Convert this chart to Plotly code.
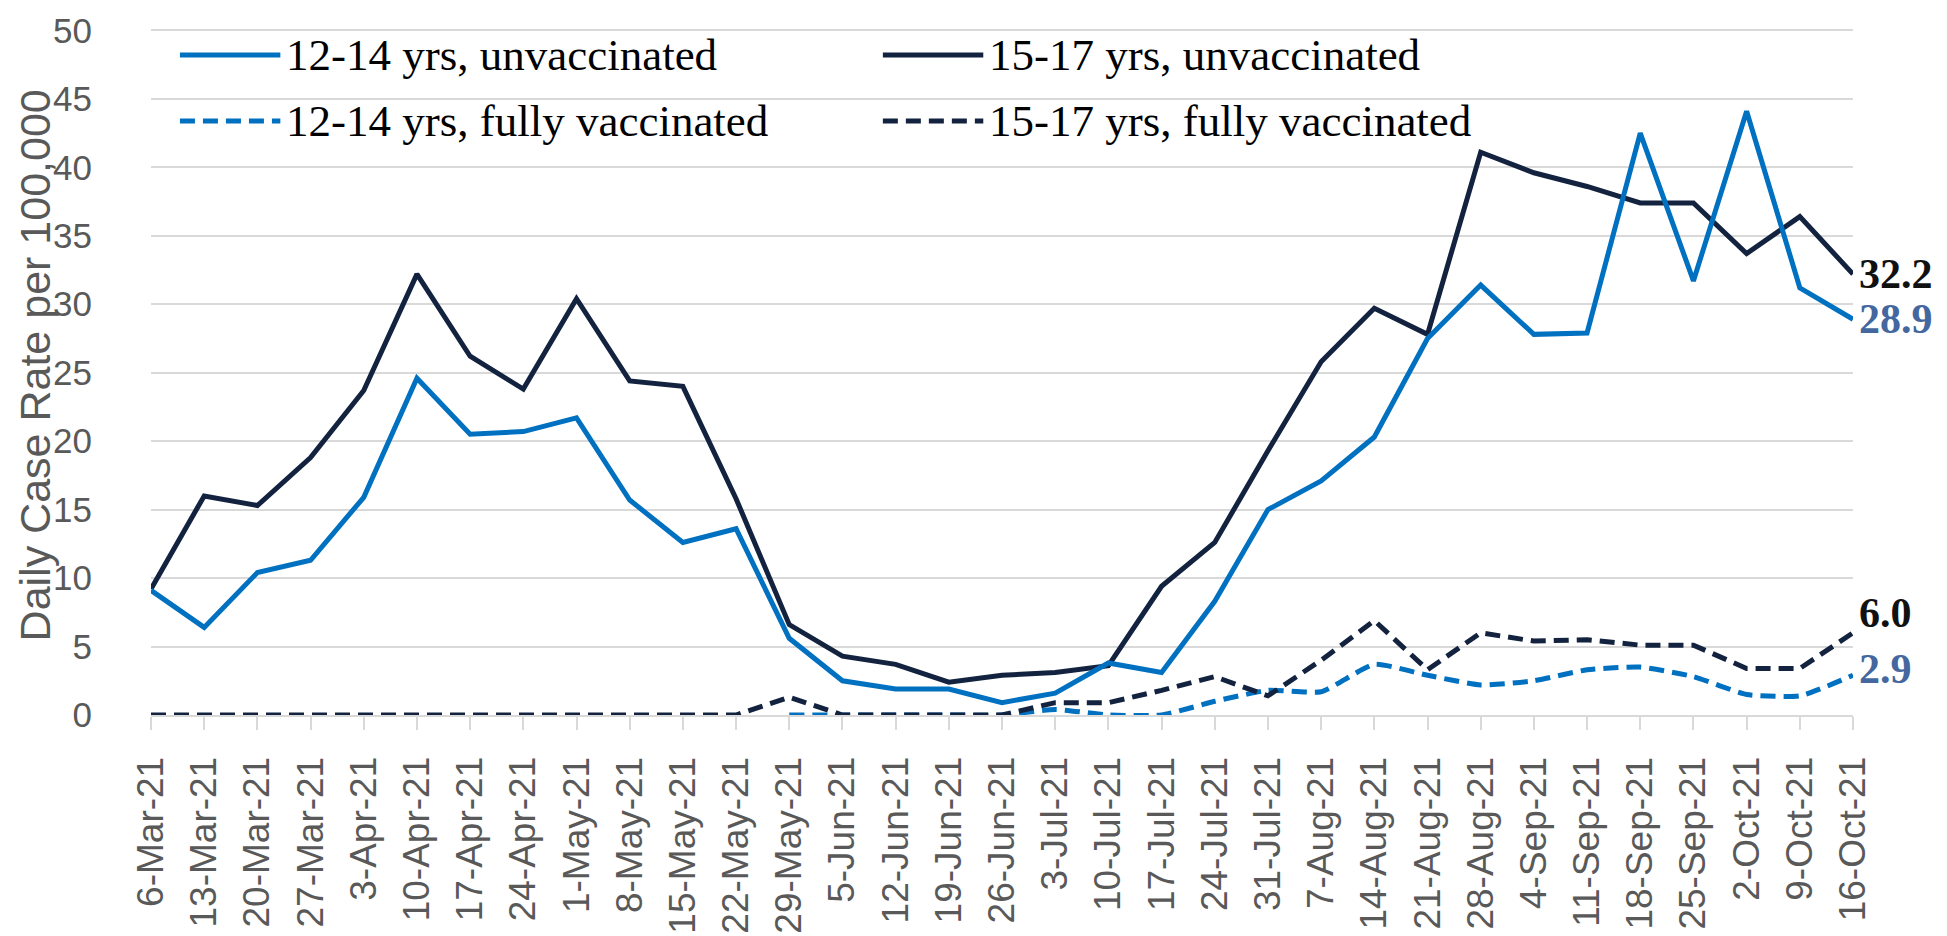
import plotly.graph_objects as go

weeks = ["6-Mar-21", "13-Mar-21", "20-Mar-21", "27-Mar-21", "3-Apr-21", "10-Apr-21",
         "17-Apr-21", "24-Apr-21", "1-May-21", "8-May-21", "15-May-21", "22-May-21",
         "29-May-21", "5-Jun-21", "12-Jun-21", "19-Jun-21", "26-Jun-21", "3-Jul-21",
         "10-Jul-21", "17-Jul-21", "24-Jul-21", "31-Jul-21", "7-Aug-21", "14-Aug-21",
         "21-Aug-21", "28-Aug-21", "4-Sep-21", "11-Sep-21", "18-Sep-21", "25-Sep-21",
         "2-Oct-21", "9-Oct-21", "16-Oct-21"]

unvax_12_14 = [9.1, 6.4, 10.4, 11.3, 15.9, 24.6, 20.5, 20.7, 21.7, 15.7, 12.6, 13.6,
               5.6, 2.5, 1.9, 1.9, 0.9, 1.6, 3.8, 3.1, 8.3, 15.0, 17.1, 20.3,
               27.5, 31.4, 27.8, 27.9, 42.5, 31.7, 44.1, 31.2, 28.9]
unvax_15_17 = [9.2, 16.0, 15.3, 18.8, 23.7, 32.2, 26.2, 23.8, 30.4, 24.4, 24.0, 15.8,
               6.6, 4.3, 3.7, 2.4, 2.9, 3.1, 3.6, 9.4, 12.6, 19.3, 25.8, 29.7,
               27.8, 41.1, 39.6, 38.6, 37.4, 37.4, 33.7, 36.4, 32.2]
vax_12_14 = [None] * 12 + [0.0, 0.0, 0.0, 0.0, 0.0, 0.4, 0.0, 0.0, 1.0, 1.8, 1.7, 3.7,
                           2.9, 2.2, 2.5, 3.3, 3.5, 2.8, 1.5, 1.4, 2.9]
vax_15_17 = [0.0] * 12 + [1.3, 0.0, 0.0, 0.0, 0.0, 0.9, 0.9, 1.8, 2.8, 1.4, 4.0, 6.9,
                          3.3, 6.0, 5.4, 5.5, 5.1, 5.1, 3.4, 3.4, 6.0]

series_names = ["12-14 yrs, unvaccinated", "15-17 yrs, unvaccinated",
                "12-14 yrs, fully vaccinated", "15-17 yrs, fully vaccinated"]

BLUE = "#0070C0"
NAVY = "#13233F"
GRID = "#D9D9D9"
GREY_TXT = "#595959"
SERIF = "Liberation Serif, DejaVu Serif, serif"
SANS = "Liberation Sans, Arial, sans-serif"
DASH = "15px,8px"
LW = 5

fig = go.Figure()
fig.add_trace(go.Scatter(x=weeks, y=vax_12_14, name=series_names[2], mode="lines",
                         line=dict(color=BLUE, width=LW, dash=DASH, shape="spline", smoothing=0.5)))
fig.add_trace(go.Scatter(x=weeks, y=vax_15_17, name=series_names[3], mode="lines",
                         line=dict(color=NAVY, width=LW, dash=DASH)))
fig.add_trace(go.Scatter(x=weeks, y=unvax_15_17, name=series_names[1], mode="lines",
                         line=dict(color=NAVY, width=LW)))
fig.add_trace(go.Scatter(x=weeks, y=unvax_12_14, name=series_names[0], mode="lines",
                         line=dict(color=BLUE, width=LW)))

# hand-made legend (2 x 2) so the sample lines are long like the original
legend_items = [(series_names[0], BLUE, "solid", 0.017, 0.962),
                (series_names[1], NAVY, "solid", 0.430, 0.962),
                (series_names[2], BLUE, DASH, 0.017, 0.866),
                (series_names[3], NAVY, DASH, 0.430, 0.866)]
for name, color, dash, lx, ly in legend_items:
    fig.add_shape(type="line", xref="paper", yref="paper", x0=lx, x1=lx + 0.059, y0=ly, y1=ly,
                  line=dict(color=color, width=LW, dash=dash))
    fig.add_annotation(xref="paper", yref="paper", x=lx + 0.061, y=ly, text=name,
                       showarrow=False, xanchor="left", yanchor="middle",
                       font=dict(family=SERIF, size=45, color="#000000"))

# end-of-line value labels
end_labels = [(unvax_15_17[-1], "#111111", 0), (unvax_12_14[-1], "#44679F", 0),
              (vax_15_17[-1], "#111111", 20), (vax_12_14[-1], "#44679F", 6)]
for val, color, shift in end_labels:
    fig.add_annotation(x=weeks[-1], y=val, text="<b>%.1f</b>" % val, showarrow=False,
                       xanchor="left", yanchor="middle", xshift=4, yshift=shift,
                       font=dict(family=SERIF, size=42, color=color))

# y axis title
fig.add_annotation(xref="paper", yref="paper", x=-0.068, y=0.51, text="Daily Case Rate per 100,000",
                   textangle=-90, showarrow=False, xanchor="center", yanchor="middle",
                   font=dict(family=SANS, size=43, color=GREY_TXT))

# the page body adds an 8px offset, so the figure is a little smaller than the window
fig.update_layout(
    width=1939, height=928,
    margin=dict(l=143, r=94, t=21, b=221),
    paper_bgcolor="white", plot_bgcolor="white",
    showlegend=False,
)
fig.update_xaxes(type="category", range=[0, 32], showgrid=False, automargin=False,
                 showline=True, linecolor=GRID, linewidth=2,
                 ticks="outside", ticklen=13, tickcolor=GRID, tickwidth=2,
                 tickangle=-90, ticklabelstandoff=12,
                 tickfont=dict(family=SANS, size=37, color=GREY_TXT))
fig.update_yaxes(range=[0, 50.1], tickvals=list(range(0, 51, 5)), showgrid=True,
                 gridcolor=GRID, gridwidth=2, ticklabeloverflow="allow",
                 zeroline=False, ticks="", ticklabelstandoff=58, automargin=False,
                 tickfont=dict(family=SANS, size=35, color=GREY_TXT))

fig.write_html("out.html")
